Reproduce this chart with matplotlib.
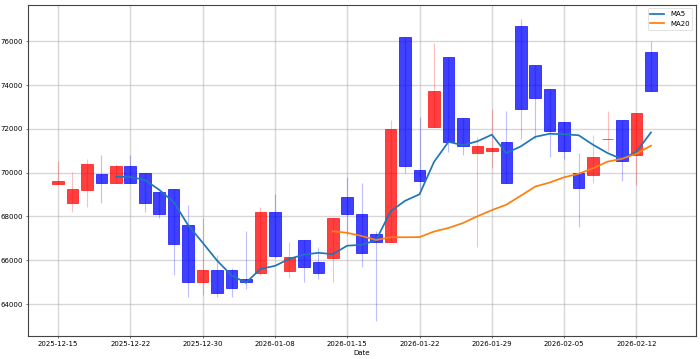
import matplotlib
matplotlib.use("Agg")
import matplotlib.pyplot as plt
import numpy as np
import pandas as pd

dates = ["2025-12-15", "2025-12-16", "2025-12-17", "2025-12-18", "2025-12-19",
         "2025-12-22", "2025-12-23", "2025-12-24", "2025-12-26", "2025-12-29",
         "2025-12-30", "2026-01-02", "2026-01-05", "2026-01-06", "2026-01-07",
         "2026-01-08", "2026-01-09", "2026-01-12", "2026-01-13", "2026-01-14",
         "2026-01-15", "2026-01-16", "2026-01-19", "2026-01-20", "2026-01-21",
         "2026-01-22", "2026-01-23", "2026-01-26", "2026-01-27", "2026-01-28",
         "2026-01-29", "2026-01-30", "2026-02-02", "2026-02-03", "2026-02-04",
         "2026-02-05", "2026-02-06", "2026-02-09", "2026-02-10", "2026-02-11",
         "2026-02-12", "2026-02-13"]
opens = [69500, 68620, 69210, 69925, 69515, 70320, 70000, 69130, 69240, 67610,
         65020, 65540, 65540, 65130, 65405, 68220, 65530, 66925, 65910, 66120,
         68905, 68130, 67215, 66820, 76210, 70110, 72105, 75300, 72510, 70915,
         71005, 71415, 76710, 74905, 73805, 72315, 70000, 69910, 71525, 72420,
         70820, 75510]
closes = [69600, 69240, 70410, 69515, 70320, 69515, 68620, 68130, 66730, 65020,
          65540, 64520, 64750, 65020, 68220, 66200, 66140, 65710, 65435, 67920,
          68130, 66320, 66820, 71995, 70320, 69620, 73715, 71400, 71220, 71220,
          71130, 69530, 72910, 73410, 71915, 71005, 69315, 70730, 71525, 70520,
          72710, 73715]
highs = [70530, 70020, 70625, 70820, 70400, 70820, 70000, 69130, 69240, 68530,
         67920, 66230, 65660, 67340, 68420, 69030, 66835, 66925, 66620, 67920,
         69820, 69530, 67340, 72405, 76210, 72530, 75910, 75300, 72510, 71645,
         72920, 72815, 77000, 74905, 73805, 72315, 70915, 71720, 72815, 72420,
         72710, 76015]
lows = [69500, 68220, 68430, 68630, 69515, 69515, 68220, 67920, 65310, 64340,
        64420, 64340, 64340, 64710, 65310, 66120, 65205, 65020, 65130, 65020,
        67155, 65710, 63230, 66820, 70000, 69270, 72105, 70930, 70810, 66620,
        70200, 69530, 71525, 71525, 70730, 70625, 67505, 69515, 71005, 69620,
        69420, 73715]

df = pd.DataFrame({"Open": opens, "High": highs, "Low": lows, "Close": closes},
                  index=pd.to_datetime(dates))
df["MA5"] = df["Close"].rolling(5).mean()
df["MA20"] = df["Close"].rolling(20).mean()

x = np.arange(len(df))
up = df["Close"] >= df["Open"]
colors = np.where(up, "red", "blue")

fig = plt.figure(figsize=(14, 7.18), dpi=50)
ax = fig.add_axes([0.04, 0.064, 0.954, 0.922])

# wicks
ax.vlines(x, df["Low"], df["High"], colors=colors, alpha=0.25, linewidth=1.6)
# bodies
bottom = np.minimum(df["Open"], df["Close"])
height = np.abs(df["Close"] - df["Open"])
ax.bar(x, height, bottom=bottom, width=0.8, color=colors, alpha=0.75,
       edgecolor=colors, linewidth=1.2)

ax.plot(x, df["MA5"], label="MA5", color="#1f77b4", linewidth=2.5)
ax.plot(x, df["MA20"], label="MA20", color="#ff7f0e", linewidth=2.5)

ticks = x[::5]
ax.set_xticks(ticks)
ax.set_xticklabels([df.index[i].strftime("%Y-%m-%d") for i in ticks])
ax.set_xlim(-2.07, 44.1)
ax.set_ylim(62540, 77660)
ax.set_xlabel("Date")
ax.grid(True, color="#b0b0b0", alpha=0.5, linewidth=2)
ax.set_axisbelow(True)
for s in ax.spines.values():
    s.set_linewidth(1.6)
    s.set_color("#444444")
ax.legend(loc="upper right")

fig.savefig("out.png", dpi=50)
